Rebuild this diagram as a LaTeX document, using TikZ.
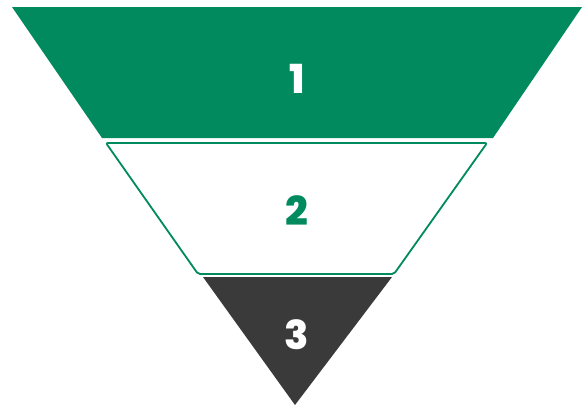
\documentclass[tikz,border=0pt]{standalone}
\usepackage{fontspec}
\setmainfont{Poppins}[BoldFont={* ExtraBold}]
\definecolor{fgreen}{RGB}{0,138,94}
\definecolor{fdark}{RGB}{58,58,58}
\begin{document}
\begin{tikzpicture}[x=1pt,y=-1pt,
  numlbl/.style={font=\fontsize{40}{40}\selectfont\bfseries, inner sep=0pt}]
\useasboundingbox (0,0) rectangle (585,407);
% top band
\path[fill=fgreen] (12,7) -- (582,7) -- (493,138) -- (102,138) -- cycle;
% middle band
\draw[fgreen, line width=1.8pt, rounded corners=2pt, fill=white] (106,143) -- (487,143) -- (394,274) -- (198,274) -- cycle;
% bottom triangle
\path[fill=fdark] (203,277) -- (392,277) -- (295,405) -- cycle;
\node[numlbl, text=white] (n1) at (297,79) {1};
\node[numlbl, text=fgreen] (n2) at (297,211) {2};
\node[numlbl, text=white] (n3) at (297,335) {3};
\end{tikzpicture}
\end{document}
